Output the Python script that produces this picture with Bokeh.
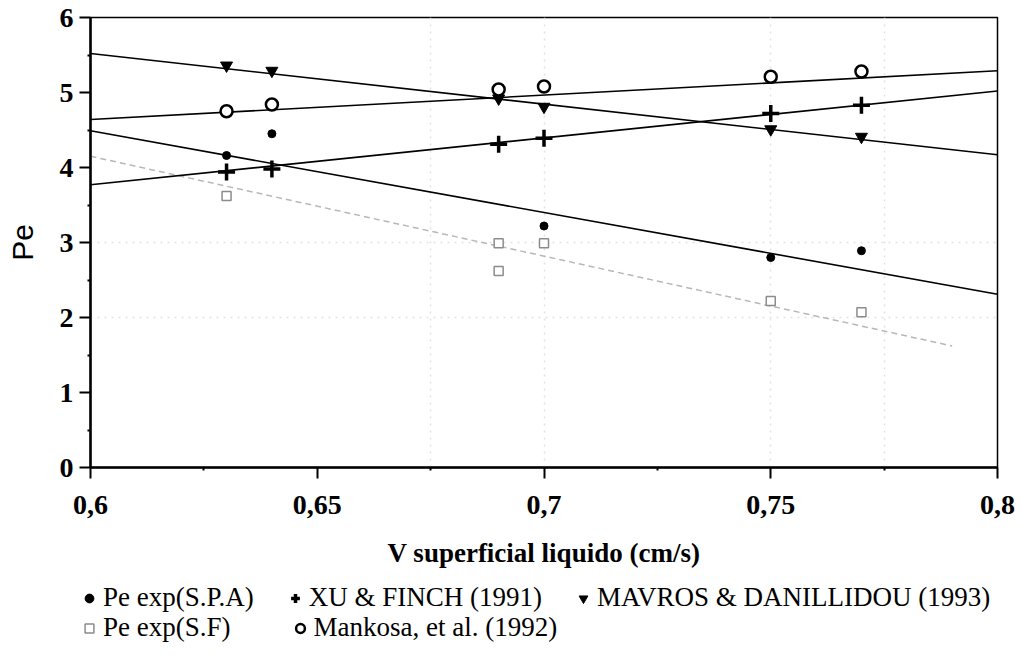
from bokeh.plotting import figure
from bokeh.layouts import column, row
from bokeh.models import (Range1d, FixedTicker, CustomJSTickFormatter, Legend,
                          LegendItem, Grid)
from bokeh.embed import file_html
from bokeh.resources import INLINE

# ---- data ----
x_spa = [0.63, 0.64, 0.70, 0.75, 0.77]
pe_spa = [4.16, 4.45, 3.22, 2.80, 2.89]

x_sf = [0.63, 0.69, 0.69, 0.70, 0.75, 0.77]
pe_sf = [3.62, 2.62, 2.99, 2.99, 2.22, 2.07]

x_model = [0.63, 0.64, 0.69, 0.70, 0.75, 0.77]
pe_xu = [3.94, 3.98, 4.31, 4.39, 4.72, 4.83]
pe_mankosa = [4.75, 4.84, 5.04, 5.08, 5.21, 5.28]
pe_mavros = [5.36, 5.29, 4.92, 4.81, 4.51, 4.41]

# fitted trend lines (end points)
fit_x = [0.6, 0.8]
fit_spa = [4.49, 2.31]
fit_xu = [3.77, 5.02]
fit_mankosa = [4.64, 5.29]
fit_mavros = [5.52, 4.17]
fit_sf_x = [0.6, 0.79]
fit_sf = [4.15, 1.62]

x_ticks = [0.6, 0.65, 0.7, 0.75, 0.8]
x_minor = [0.625, 0.675, 0.725, 0.775]
y_ticks = [0, 1, 2, 3, 4, 5, 6]
y_minor = [0.5, 1.5, 2.5, 3.5, 4.5, 5.5]

labels = ["Pe exp(S.P.A)", "XU & FINCH (1991)", "MAVROS & DANILLIDOU (1993)",
          "Pe exp(S.F)", "Mankosa, et al. (1992)"]

W = 1028
H1 = 572
p = figure(width=W, height=H1, output_backend="svg", toolbar_location=None,
           x_range=Range1d(0.6, 0.8), y_range=Range1d(0, 6),
           min_border_left=90, min_border_right=31, min_border_top=17,
           min_border_bottom=H1 - 467)

p.background_fill_color = "white"
p.border_fill_color = "white"
p.outline_line_color = "black"
p.outline_line_width = 1.5
p.grid.visible = False

# faint dotted scan grid
p.add_layout(Grid(dimension=0, ticker=FixedTicker(ticks=[0.675, 0.7, 0.75, 0.775]),
                  grid_line_color="#e2e2e2", grid_line_dash="2 5", grid_line_width=1.5))
p.add_layout(Grid(dimension=1, ticker=FixedTicker(ticks=[2, 3]),
                  grid_line_color="#e2e2e2", grid_line_dash="2 5", grid_line_width=1.5))

# axes
p.xaxis.ticker = FixedTicker(ticks=x_ticks, minor_ticks=x_minor)
p.yaxis.ticker = FixedTicker(ticks=y_ticks, minor_ticks=y_minor)
p.xaxis.formatter = CustomJSTickFormatter(
    code="return (Math.round(tick*100)/100).toString().replace('.', ',');")
for ax in (p.xaxis, p.yaxis):
    ax.axis_line_color = "black"
    ax.axis_line_width = 2.5
    ax.major_tick_line_color = "black"
    ax.major_tick_line_width = 2
    ax.major_tick_out = 11
    ax.major_tick_in = 0
    ax.minor_tick_line_color = "black"
    ax.minor_tick_line_width = 2
    ax.minor_tick_out = 3
    ax.minor_tick_in = 0
    ax.major_label_text_font = "Liberation Serif"
    ax.major_label_text_font_style = "bold"
    ax.major_label_text_font_size = "28px"
    ax.major_label_text_color = "black"
p.xaxis.major_label_standoff = 17
p.yaxis.major_label_standoff = 6

p.xaxis.axis_label = "V superficial liquido (cm/s)"
p.xaxis.axis_label_text_font = "Liberation Serif"
p.xaxis.axis_label_text_font_style = "bold"
p.xaxis.axis_label_text_font_size = "27px"
p.xaxis.axis_label_text_color = "black"
p.xaxis.axis_label_standoff = 21

p.yaxis.axis_label = "Pe"
p.yaxis.axis_label_text_font = "Liberation Sans"
p.yaxis.axis_label_text_font_style = "normal"
p.yaxis.axis_label_text_font_size = "30px"
p.yaxis.axis_label_text_color = "black"
p.yaxis.axis_label_standoff = 18

# trend lines
p.line(fit_sf_x, fit_sf, line_color="#b8b8b8", line_width=1.5, line_dash="6 4")
p.line(fit_x, fit_spa, line_color="black", line_width=1.6)
p.line(fit_x, fit_xu, line_color="black", line_width=1.6)
p.line(fit_x, fit_mankosa, line_color="black", line_width=1.6)
p.line(fit_x, fit_mavros, line_color="black", line_width=1.6)

# markers
spa_style = dict(marker="circle", size=8, color="black")
xu_style = dict(marker="cross", size=17, line_color="black", line_width=3.5)
mav_style = dict(marker="inverted_triangle", size=12, color="black")
sf_style = dict(marker="square", size=9, line_color="#8c8c8c", fill_color="white",
                line_width=1.5)
man_style = dict(marker="circle", size=12, line_color="black", fill_color="white",
                 line_width=2.5)

p.scatter(x_spa, pe_spa, **spa_style)
p.scatter(x_model, pe_xu, **xu_style)
p.scatter(x_model, pe_mavros, **mav_style)
p.scatter(x_sf, pe_sf, **sf_style)
p.scatter(x_model, pe_mankosa, **man_style)

# ---- legend strip below the chart (its ranges keep the series out of view) ----
H2 = 665 - H1
q = figure(width=W, height=H2, output_backend="svg", toolbar_location=None,
           x_range=Range1d(0, 0.1), y_range=Range1d(10, 11), min_border=0)
q.axis.visible = False
q.grid.visible = False
q.outline_line_color = None
q.background_fill_color = "white"
q.border_fill_color = "white"

lr = [q.scatter(x_spa, pe_spa, **spa_style),
      q.scatter(x_model, pe_xu, **xu_style),
      q.scatter(x_model, pe_mavros, **mav_style),
      q.scatter(x_sf, pe_sf, **sf_style),
      q.scatter(x_model, pe_mankosa, **man_style)]


def make_legend(idx, loc, spacing):
    lg = Legend(items=[LegendItem(label=labels[i], renderers=[lr[i]]) for i in idx],
                orientation="horizontal", location=loc)
    lg.label_text_font = "Liberation Serif"
    lg.label_text_font_size = "27px"
    lg.label_text_color = "black"
    lg.label_text_line_height = 1.0
    lg.border_line_color = None
    lg.background_fill_alpha = 0
    lg.padding = 0
    lg.margin = 0
    lg.spacing = spacing
    lg.glyph_width = 22
    lg.glyph_height = 22
    lg.label_standoff = 3
    lg.label_height = 30
    return lg


q.add_layout(make_legend([0, 1, 2], (78, 52), 30), "center")
q.add_layout(make_legend([3, 4], (78, 22), 58), "center")

open("out.html", "w").write(file_html(column(p, row(q), spacing=0), INLINE))
